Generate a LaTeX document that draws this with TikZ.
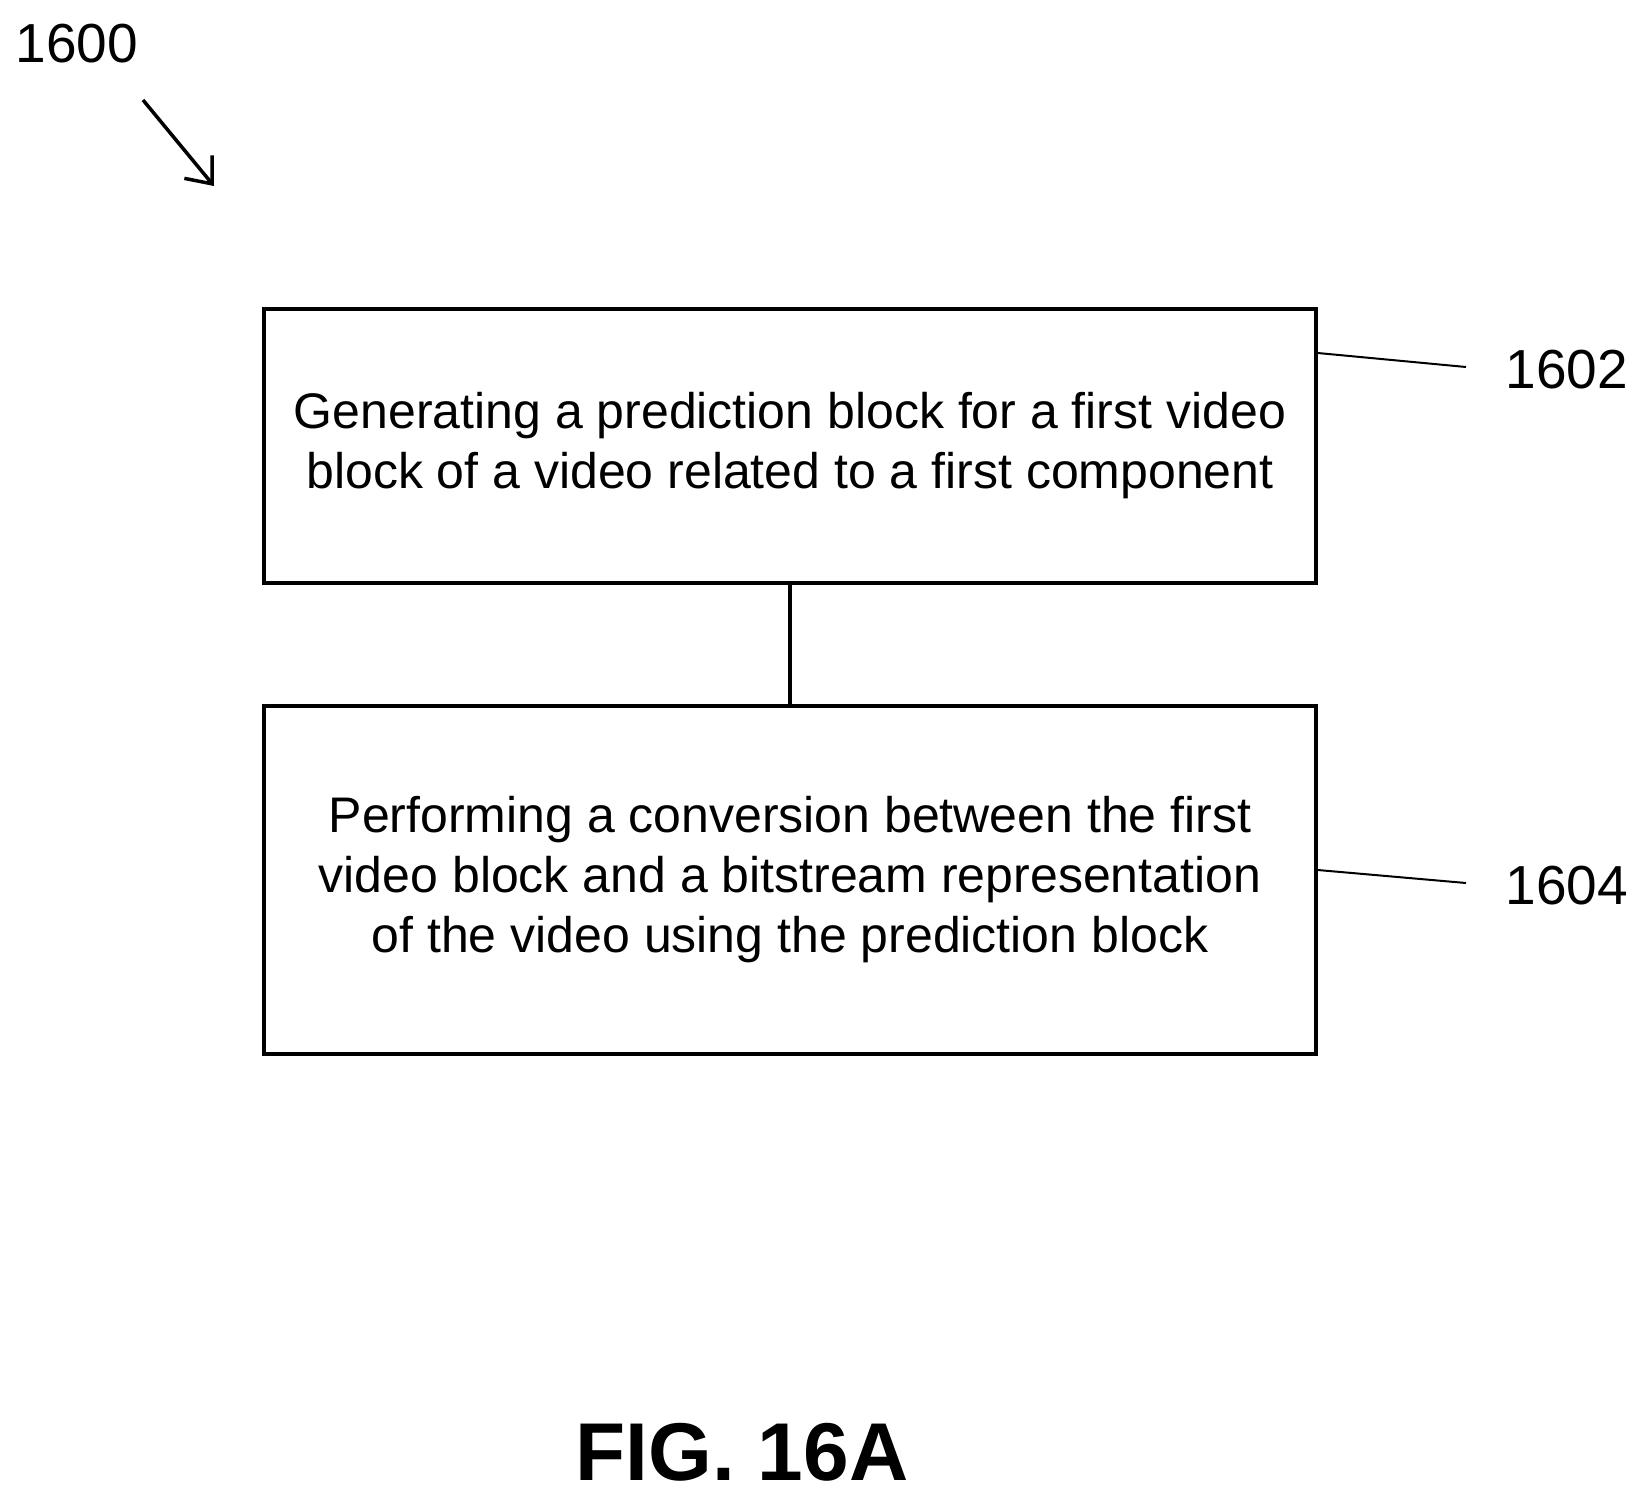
\documentclass[tikz,border=0pt]{standalone}
\usepackage{fontspec}
\setmainfont{Liberation Sans}
\usetikzlibrary{positioning,arrows.meta}

\begin{document}
\begin{tikzpicture}[x=1pt,y=-1pt,
  stepbox/.style={draw, line width=3.5pt, minimum width=1052pt, align=center,
    font=\fontsize{50}{60}\selectfont},
  refnum/.style={font=\fontsize{55}{60}\selectfont},
  leader/.style={line width=2pt}]
  \useasboundingbox (0,0) rectangle (1650,1502);
  % boxes
  \node[stepbox, minimum height=274pt] (gen) at (790,446)
    {Generating a prediction block for a first video\\block of a video related to a first component};
  \node[stepbox, minimum height=348pt] (conv) at (790,880)
    {Performing a conversion between the first\\video block and a bitstream representation\\of the video using the prediction block};
  \draw[line width=4pt] (gen) -- (conv);
  % reference numerals
  \node[refnum, anchor=west] (n1602) at (1502,370) {1602};
  \node[refnum, anchor=west] (n1604) at (1502,886) {1604};
  \coordinate (e1602) at (1466,367);
  \coordinate (e1604) at (1466,883);
  \draw[leader] (gen.east |- 0,353) -- (e1602);
  \draw[leader] (conv.east |- 0,870) -- (e1604);
  \node[refnum, anchor=west] (n1600) at (12,44) {1600};
  \coordinate (a0) at (143,100);
  \coordinate (a1) at (214,186);
  \draw[line width=3.5pt, -{Straight Barb[length=22pt,width=36pt]}] (a0) -- (a1);
  % title
  \node[font=\bfseries\fontsize{82}{90}\selectfont] (fig) at (742,1452) {FIG. 16A};
\end{tikzpicture}
\end{document}
